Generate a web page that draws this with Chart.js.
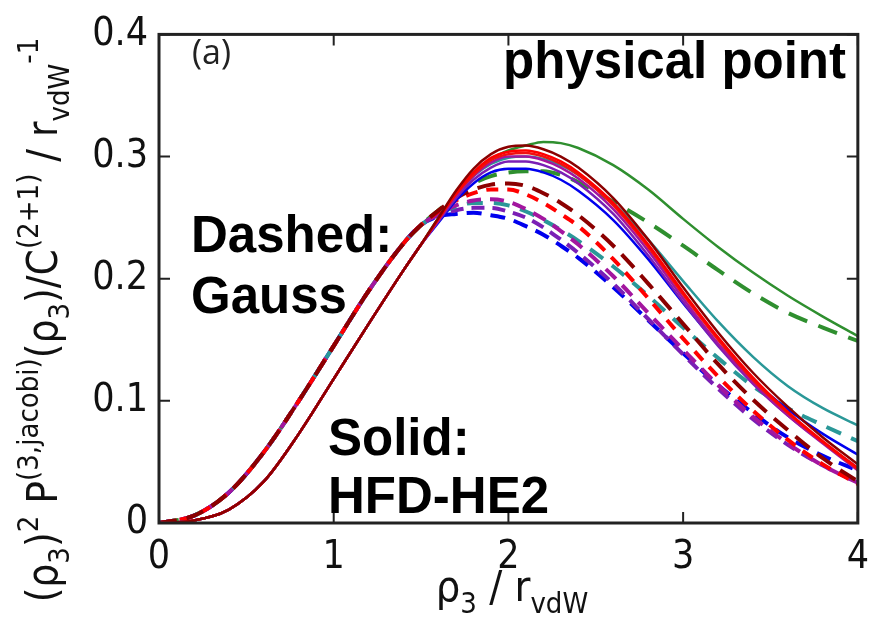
<!DOCTYPE html>
<html>
<head>
<meta charset="utf-8">
<script src="https://cdn.jsdelivr.net/npm/chart.js@4.4.1/dist/chart.umd.min.js"></script>
<style>
  html, body { margin: 0; padding: 0; background: #fff; }
  #wrap { width: 880px; height: 618px; position: relative; }
</style>
</head>
<body>
<div id="wrap"><canvas id="jacobiChart"></canvas></div>
<script>
// rho_3 grid: shared rising part, then the tail where the curves split
const xRise = [0, 0.2, 0.4, 0.6, 0.8, 1.0, 1.2, 1.4, 1.5];
const xTail = [1.6, 1.7, 1.8, 1.9, 2.0, 2.1, 2.2, 2.3, 2.4, 2.6, 2.8, 3.0, 3.2, 3.4, 3.6, 3.8, 4.0];

// rising part is common to all solid (HFD-HE2) curves and to all dashed (Gauss) curves
const solidRise = [0, 0.002, 0.011, 0.034, 0.073, 0.118, 0.163, 0.207, 0.228];
const gaussRise = [0, 0.006, 0.025, 0.058, 0.100, 0.145, 0.190, 0.229, 0.244];

// solid: HFD-HE2
const solidDarkRed = [0.250, 0.272, 0.290, 0.302, 0.308, 0.309, 0.306, 0.300, 0.291, 0.266, 0.232, 0.193, 0.156, 0.123, 0.095, 0.070, 0.048];
const solidRed     = [0.249, 0.270, 0.287, 0.299, 0.304, 0.305, 0.302, 0.296, 0.287, 0.262, 0.228, 0.189, 0.152, 0.119, 0.091, 0.067, 0.045];
const solidRed2    = [0.249, 0.269, 0.285, 0.297, 0.302, 0.303, 0.300, 0.294, 0.285, 0.260, 0.226, 0.187, 0.150, 0.117, 0.090, 0.066, 0.044];
const solidMagenta = [0.248, 0.268, 0.284, 0.295, 0.300, 0.300, 0.297, 0.291, 0.282, 0.257, 0.223, 0.184, 0.147, 0.115, 0.088, 0.065, 0.043];
const solidPurple  = [0.247, 0.266, 0.281, 0.291, 0.296, 0.296, 0.293, 0.287, 0.278, 0.253, 0.219, 0.181, 0.145, 0.114, 0.088, 0.066, 0.045];
const solidBlue    = [0.246, 0.264, 0.278, 0.287, 0.290, 0.290, 0.287, 0.281, 0.272, 0.248, 0.216, 0.180, 0.146, 0.117, 0.093, 0.073, 0.056];
const solidTeal    = [0.248, 0.268, 0.284, 0.294, 0.299, 0.300, 0.298, 0.293, 0.285, 0.262, 0.232, 0.198, 0.165, 0.136, 0.112, 0.094, 0.080];
const solidGreen   = [0.250, 0.270, 0.286, 0.298, 0.305, 0.309, 0.312, 0.311, 0.307, 0.293, 0.273, 0.249, 0.226, 0.205, 0.186, 0.169, 0.153];

// dashed: Gauss
const gaussDarkRed = [0.256, 0.266, 0.273, 0.277, 0.278, 0.276, 0.270, 0.262, 0.252, 0.227, 0.196, 0.163, 0.130, 0.101, 0.076, 0.053, 0.034];
const gaussRed     = [0.255, 0.264, 0.270, 0.273, 0.273, 0.269, 0.262, 0.253, 0.243, 0.216, 0.184, 0.151, 0.120, 0.092, 0.068, 0.048, 0.032];
const gaussMagenta = [0.253, 0.260, 0.264, 0.265, 0.263, 0.257, 0.249, 0.239, 0.228, 0.202, 0.172, 0.142, 0.113, 0.087, 0.065, 0.047, 0.033];
const gaussTeal    = [0.253, 0.259, 0.262, 0.262, 0.260, 0.255, 0.248, 0.240, 0.231, 0.210, 0.186, 0.160, 0.135, 0.112, 0.094, 0.080, 0.067];
const gaussPurple  = [0.252, 0.256, 0.258, 0.258, 0.255, 0.250, 0.242, 0.232, 0.221, 0.196, 0.167, 0.138, 0.110, 0.085, 0.064, 0.047, 0.033];
const gaussBlue    = [0.251, 0.253, 0.254, 0.252, 0.249, 0.243, 0.236, 0.227, 0.217, 0.193, 0.166, 0.139, 0.113, 0.090, 0.070, 0.055, 0.043];
const gaussGreen   = [0.256, 0.268, 0.278, 0.284, 0.287, 0.288, 0.288, 0.285, 0.279, 0.263, 0.246, 0.227, 0.207, 0.188, 0.172, 0.160, 0.149];

const xTicks = [0, 1, 2, 3, 4];
const yTicks = [0, 0.1, 0.2, 0.3, 0.4];

const FONT = '"DejaVu Sans Condensed", "DejaVu Sans", sans-serif';
const BOLD = '"Liberation Sans", Arial, sans-serif';

function curve(rise, tail) {
  const xs = xRise.concat(xTail);
  const ys = rise.concat(tail);
  return xs.map((x, i) => ({ x: x, y: ys[i] }));
}

function solid(tail, color) {
  return { data: curve(solidRise, tail), borderColor: color, borderWidth: 2.5, pointRadius: 0, fill: false };
}

function gauss(tail, color, dash) {
  return { data: curve(gaussRise, tail), borderColor: color, borderWidth: 4, borderDash: dash, pointRadius: 0, fill: false };
}

// first dataset ends up on top
const datasets = [
  solid(solidDarkRed, '#8b0000'),
  solid(solidRed, '#ff0000'),
  solid(solidRed2, '#f01010'),
  solid(solidMagenta, '#a3169f'),
  solid(solidPurple, '#7a1fb5'),
  solid(solidBlue, '#0000ee'),
  solid(solidTeal, '#2a9898'),
  solid(solidGreen, '#2f8f2f'),
  gauss(gaussDarkRed, '#8b0000', [18, 10]),
  gauss(gaussRed, '#ff0000', [12, 9]),
  gauss(gaussMagenta, '#a3169f', [14, 9]),
  gauss(gaussTeal, '#2a9898', [16, 11]),
  gauss(gaussPurple, '#7a1fb5', [13, 8]),
  gauss(gaussBlue, '#0000ee', [15, 9]),
  gauss(gaussGreen, '#2f8f2f', [20, 12])
];

// text runs with sub/superscripts, drawn along the baseline
function runWidth(ctx, parts, size) {
  let w = 0;
  parts.forEach(p => {
    ctx.font = (p[1] === 'n' ? size : Math.round(size * 0.68)) + 'px ' + FONT;
    w += ctx.measureText(p[0]).width;
  });
  return w;
}

function drawRun(ctx, parts, x, y, size) {
  parts.forEach(p => {
    const small = Math.round(size * 0.68);
    let dy = 0;
    if (p[1] === 'sub') dy = size * 0.28;
    if (p[1] === 'sup') dy = -size * 0.45;
    ctx.font = (p[1] === 'n' ? size : small) + 'px ' + FONT;
    ctx.fillText(p[0], x, y + dy);
    x += ctx.measureText(p[0]).width;
  });
}

// font size that makes a run a given length
function fitSize(ctx, parts, length) {
  return Math.round(40 * length / runWidth(ctx, parts, 40));
}

const yTitle = [['(ρ', 'n'], ['3', 'sub'], [')', 'n'], ['2', 'sup'], [' P', 'n'], ['(3,jacobi)', 'sup'],
  ['(ρ', 'n'], ['3', 'sub'], [')/C', 'n'], ['(2+1)', 'sup'], [' / r', 'n'], ['vdW', 'sub'], ['-1', 'sup']];
const xTitle = [['ρ', 'n'], ['3', 'sub'], [' / r', 'n'], ['vdW', 'sub']];

const framePlugin = {
  id: 'frame',
  afterDraw(chart) {
    const ctx = chart.ctx;
    const a = chart.chartArea;
    const xs = chart.scales.x, ys = chart.scales.y;
    ctx.save();

    // inward ticks on all four sides
    ctx.strokeStyle = '#222';
    ctx.lineWidth = 2;
    xs.ticks.forEach(t => {
      const px = xs.getPixelForValue(t.value);
      ctx.beginPath();
      ctx.moveTo(px, a.bottom); ctx.lineTo(px, a.bottom - 11);
      ctx.moveTo(px, a.top); ctx.lineTo(px, a.top + 11);
      ctx.stroke();
    });
    ys.ticks.forEach(t => {
      const py = ys.getPixelForValue(t.value);
      ctx.beginPath();
      ctx.moveTo(a.left, py); ctx.lineTo(a.left + 11, py);
      ctx.moveTo(a.right, py); ctx.lineTo(a.right - 11, py);
      ctx.stroke();
    });

    ctx.lineWidth = 3;
    ctx.strokeRect(a.left, a.top, a.right - a.left, a.bottom - a.top);

    // axis titles
    ctx.fillStyle = '#111';
    ctx.textBaseline = 'alphabetic';
    ctx.textAlign = 'left';
    const xSize = fitSize(ctx, xTitle, 152);
    const xw = runWidth(ctx, xTitle, xSize);
    drawRun(ctx, xTitle, 512 - xw / 2, 601, xSize);

    const ySize = fitSize(ctx, yTitle, 560);
    const yw = runWidth(ctx, yTitle, ySize);
    ctx.translate(57, 320);
    ctx.rotate(-Math.PI / 2);
    drawRun(ctx, yTitle, -yw / 2, 0, ySize);
    ctx.restore();

    // panel notes
    ctx.save();
    ctx.fillStyle = '#222';
    ctx.font = '34px "Open Sans", sans-serif';
    ctx.fillText('(a)', 192, 64);
    ctx.fillStyle = '#000';
    ctx.font = 'bold 51px ' + BOLD;
    ctx.textAlign = 'right';
    ctx.fillText('physical point', 846, 78);
    ctx.textAlign = 'left';
    ctx.fillText('Dashed:', 191, 252);
    ctx.fillText('Gauss', 191, 313);
    ctx.fillText('Solid:', 328, 455);
    ctx.fillText('HFD-HE2', 328, 513);
    ctx.restore();
  }
};

const ctx = document.getElementById('jacobiChart').getContext('2d');
const chart = new Chart(ctx, {
  type: 'line',
  data: { datasets: datasets },
  options: {
    responsive: true,
    maintainAspectRatio: false,
    animation: false,
    events: [],
    layout: { padding: { top: 25, right: 21, left: 0, bottom: 0 } },
    elements: { line: { cubicInterpolationMode: 'monotone', borderCapStyle: 'butt' } },
    plugins: { legend: { display: false }, tooltip: { enabled: false } },
    scales: {
      x: {
        type: 'linear',
        min: 0,
        max: 4,
        afterBuildTicks: s => { s.ticks = xTicks.map(v => ({ value: v })); },
        afterFit: s => { s.height = 95; },
        grid: { display: false, drawTicks: false },
        border: { display: false },
        ticks: { padding: 11, color: '#111', font: { family: FONT, size: 39 }, callback: v => String(v) }
      },
      y: {
        type: 'linear',
        min: 0,
        max: 0.4,
        afterBuildTicks: s => { s.ticks = yTicks.map(v => ({ value: v })); },
        afterFit: s => { s.width = 159; },
        grid: { display: false, drawTicks: false },
        border: { display: false },
        ticks: { padding: 11, color: '#111', font: { family: FONT, size: 39 }, callback: v => (v === 0 ? '0' : v.toFixed(1)) }
      }
    }
  },
  plugins: [framePlugin]
});
</script>
</body>
</html>
